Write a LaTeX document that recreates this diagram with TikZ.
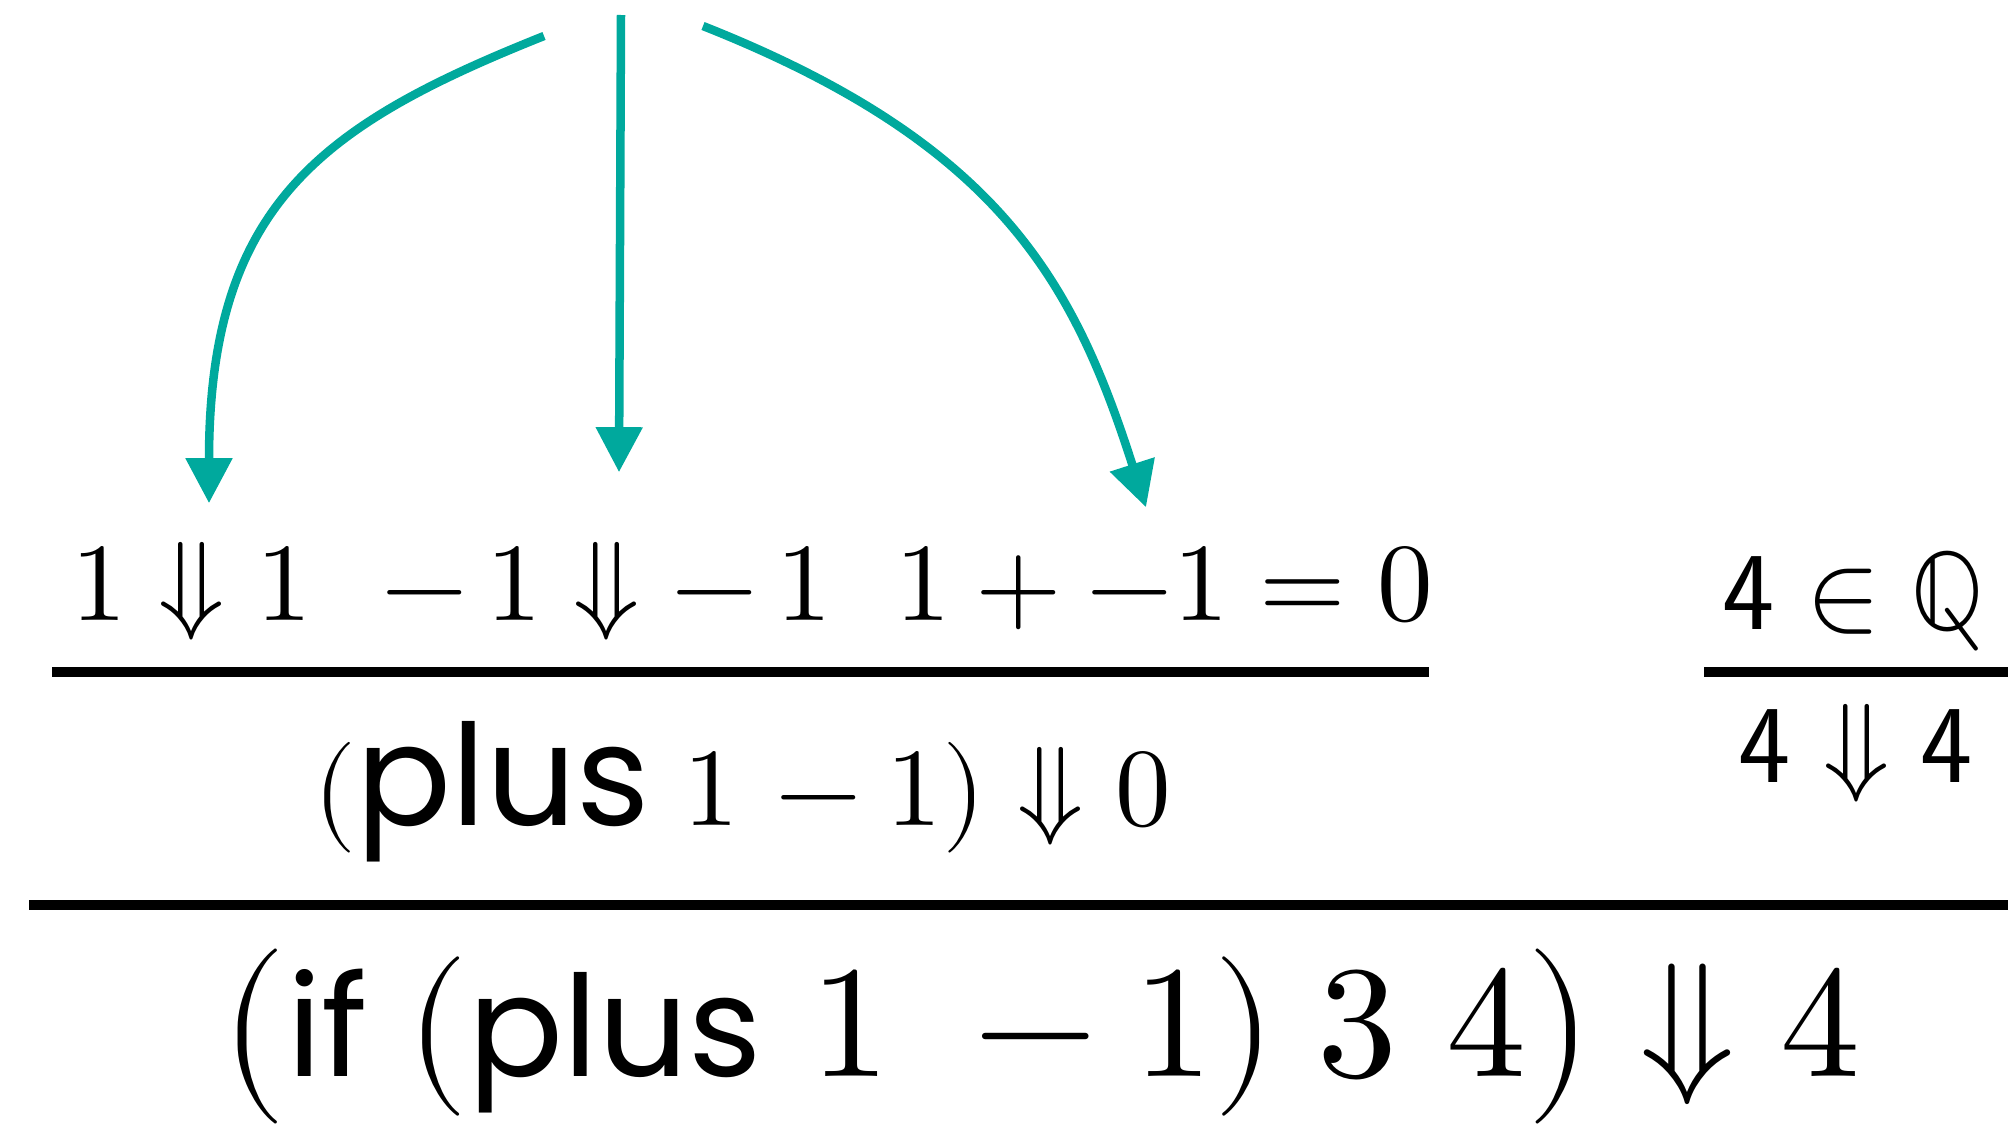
\documentclass[tikz,border=0pt]{standalone}
\usepackage{amsmath}
\usepackage{fontspec}
\usepackage{unicode-math}
\setmathfont{Latin Modern Math}
\newfontfamily\fut{Poppins}
\usetikzlibrary{arrows.meta}
\definecolor{ct}{HTML}{00A99D}
\newcommand{\kw}[1]{\text{\fontsize{40}{48}\selectfont\fut #1}}

\begin{document}
\begin{tikzpicture}[x=0.01cm,y=-0.01cm,>={Triangle[width=4.5mm,length=4.5mm]},
    jdg/.style={inner sep=0pt,anchor=base,font=\fontsize{31.6}{38}\selectfont},
    goal/.style={jdg,font=\fontsize{45.5}{54}\selectfont},
    rule/.style={line width=1mm},
    flow/.style={->,ct,line width=0.85mm},
  ]
  \useasboundingbox (0,0) rectangle (2008,1127);
  % premises
  \node[jdg] (p1) at (192,620)  {$1 \Downarrow 1$};
  \node[jdg] (p2) at (607,620)  {$-\,1 \Downarrow -\,1$};
  \node[jdg] (p3) at (1164,620) {$1 + -1 = 0$};
  \node[jdg] (q)  at (1854,629) {$\mathsf{4} \in \mathbb{Q}$};
  \draw[rule] (52,672) -- (1429,672);
  \draw[rule] (1704,672) -- (2008,672);
  % conclusions
  \node[jdg] (c1) at (742,825)  {$(\kw{plus}\ 1\mskip2mu-1) \Downarrow 0$};
  \node[jdg] (c2) at (1856,782) {$\mathsf{4} \Downarrow \mathsf{4}$};
  \draw[rule] (29,905) -- (2008,905);
  \node[goal] (g) at (1040,1076) {$\bigl(\kw{if}\hspace{0.24em}(\kw{plus}\ 1\ -1)\hspace{0.26em}3\ 4\bigr) \Downarrow 4$};
  % arrows
  \coordinate (s1) at (544,36);
  \coordinate (s2) at (621,15);
  \coordinate (s3) at (703,26);
  \draw[flow] (s1) .. controls (321,125) and (209,205) .. ([shift={(17,-38)}]p1.north);
  \draw[flow] (s2) -- ([shift={(12,-69)}]p2.north);
  \draw[flow] (s3) .. controls (1001,144) and (1074,283) .. ([shift={(-18,-38)}]p3.north);
\end{tikzpicture}
\end{document}
